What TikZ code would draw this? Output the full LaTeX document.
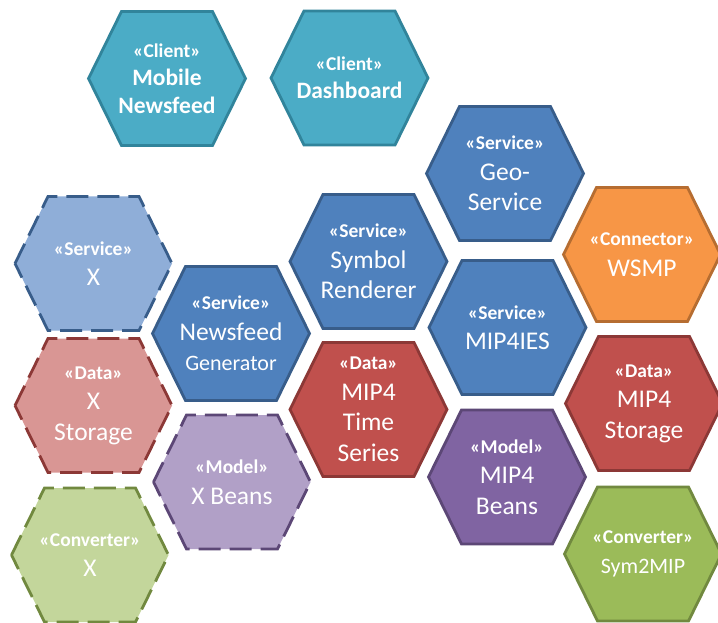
\documentclass[tikz,border=0pt]{standalone}
\usepackage{fontspec}
\setmainfont{Carlito}

\definecolor{clientfill}{HTML}{4BACC6}
\definecolor{clientline}{HTML}{31849B}
\definecolor{servicefill}{HTML}{4F81BD}
\definecolor{serviceline}{HTML}{385D8A}
\definecolor{servicelight}{HTML}{8FAED8}
\definecolor{datafill}{HTML}{C0504D}
\definecolor{dataline}{HTML}{8C3836}
\definecolor{datalight}{HTML}{D99694}
\definecolor{modelfill}{HTML}{8064A2}
\definecolor{modelline}{HTML}{5C4776}
\definecolor{modellight}{HTML}{B1A0C7}
\definecolor{connfill}{HTML}{F79646}
\definecolor{connline}{HTML}{B66D31}
\definecolor{convfill}{HTML}{9BBB59}
\definecolor{convline}{HTML}{71893F}
\definecolor{convlight}{HTML}{C3D69B}

% stereotype line above a component name
\newcommand\stereo[1]{{\fontsize{19.5}{20}\selectfont\bfseries «#1»}}

% one hexagonal cell: [node options]{name}{x}{y}{cell style}{text}
\newcommand\hexcell[6][]{%
  \path[#5] (#3,#4) ++(-78.5,0) -- ++(33,-67) -- ++(91,0) -- ++(33,67)
        -- ++(-33,67) -- ++(-91,0) -- cycle;
  \node[celltext,#1] (#2) at (#3,#4) {#6};}

\begin{document}
\begin{tikzpicture}[x=1pt,y=-1pt,
  hexagon/.style={line width=2.8pt, line join=miter},
  planned/.style={hexagon, dash pattern=on 22pt off 9pt},
  client/.style={hexagon, fill=clientfill, draw=clientline},
  service/.style={hexagon, fill=servicefill, draw=serviceline},
  servicex/.style={planned, fill=servicelight, draw=serviceline},
  data/.style={hexagon, fill=datafill, draw=dataline},
  datax/.style={planned, fill=datalight, draw=dataline},
  model/.style={hexagon, fill=modelfill, draw=modelline},
  modelx/.style={planned, fill=modellight, draw=modelline},
  connector/.style={hexagon, fill=connfill, draw=connline},
  converter/.style={hexagon, fill=convfill, draw=convline},
  converterx/.style={planned, fill=convlight, draw=convline},
  celltext/.style={text=white, align=center, inner sep=0pt,
    font=\fontsize{25.5}{30.5}\selectfont},
  boldtext/.style={font=\fontsize{23.5}{28}\selectfont\bfseries},
]
\fill[white] (0,0) rectangle (718,623);
\useasboundingbox (0,0) rectangle (718,623);

% clients
\hexcell[boldtext]{mobile}{167}{78.5}{client}{\stereo{Client}\\Mobile\\Newsfeed}
\hexcell[boldtext]{dashboard}{349.5}{78}{client}{\stereo{Client}\\Dashboard}

% existing components
\hexcell{geo}{505}{173.5}{service}{\stereo{Service}\\Geo-\\Service}
\hexcell{symbol}{368.5}{261.5}{service}{\stereo{Service}\\Symbol\\Renderer}
\hexcell{wsmp}{642}{254.5}{connector}{\stereo{Connector}\\WSMP}
\hexcell{mipies}{507.5}{327.5}{service}{\stereo{Service}\\MIP4IES}
\hexcell{newsgen}{231}{333.5}{service}{\stereo{Service}\\Newsfeed\\{\fontsize{22}{30}\selectfont Generator}}
\hexcell{timeseries}{368.5}{409.5}{data}{\stereo{Data}\\MIP4\\Time\\Series}
\hexcell{mipstorage}{644}{403.5}{data}{\stereo{Data}\\MIP4\\Storage}
\hexcell{mipbeans}{507}{477}{model}{\stereo{Model}\\MIP4\\Beans}
\hexcell{symtomip}{643}{554}{converter}{\stereo{Converter}\\{\fontsize{22}{28}\selectfont Sym2MIP}}

% planned components
\hexcell{servicex}{93.5}{263.5}{servicex}{\stereo{Service}\\X}
\hexcell{xstorage}{93.5}{405.5}{datax}{\stereo{Data}\\X\\Storage}
\hexcell{xbeans}{232}{482}{modelx}{\stereo{Model}\\X Beans}
\hexcell{converterx}{90}{555}{converterx}{\stereo{Converter}\\X}
\end{tikzpicture}
\end{document}
